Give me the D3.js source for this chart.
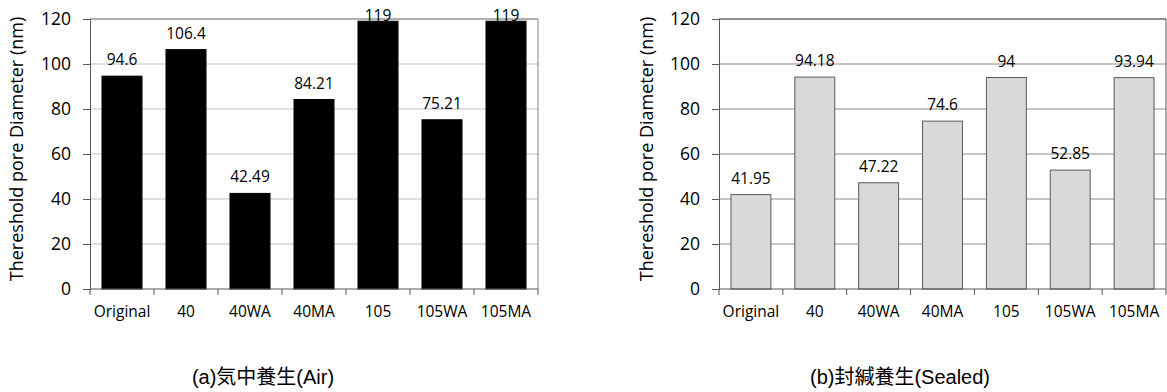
<!DOCTYPE html>
<html>
<head>
<meta charset="utf-8">
<script src="https://cdn.jsdelivr.net/npm/d3@7"></script>
<style>
  body { margin: 0; background: #fff; }
  svg text { font-family: "Open Sans", "Liberation Sans", sans-serif; fill: #000; }
</style>
</head>
<body>
<div id="chart"></div>
<script>
const categories = ["Original", "40", "40WA", "40MA", "105", "105WA", "105MA"];
const airValues = [94.6, 106.4, 42.49, 84.21, 119, 75.21, 119];
const airLabels = ["94.6", "106.4", "42.49", "84.21", "119", "75.21", "119"];
const sealedValues = [41.95, 94.18, 47.22, 74.6, 94, 52.85, 93.94];
const sealedLabels = ["41.95", "94.18", "47.22", "74.6", "94", "52.85", "93.94"];
const yTicks = [0, 20, 40, 60, 80, 100, 120];
const yTitle = "Thereshold pore Diameter (nm)";

const svg = d3.select("#chart")
  .append("svg")
  .attr("width", 1167)
  .attr("height", 392);

function drawPanel(opt) {
  const x = d3.scaleBand()
    .domain(categories)
    .range([opt.left, opt.right])
    .paddingInner(0.375)
    .paddingOuter(0.1875);

  const y = d3.scaleLinear()
    .domain([0, 120])
    .range([289, 19]);

  const g = svg.append("g");

  // gridlines
  g.selectAll(".grid")
    .data(yTicks.filter(t => t > 0))
    .enter()
    .append("line")
    .attr("x1", opt.left)
    .attr("x2", opt.right)
    .attr("y1", d => y(d))
    .attr("y2", d => y(d))
    .attr("stroke", opt.gridColor)
    .attr("stroke-width", 1);

  // plot border (top + right)
  g.append("path")
    .attr("d", `M${opt.left},${y(120)}H${opt.right}V${y(0)}`)
    .attr("fill", "none")
    .attr("stroke", opt.borderColor)
    .attr("stroke-width", 1);

  // bars
  g.selectAll(".bar")
    .data(opt.values)
    .enter()
    .append("rect")
    .attr("x", (d, i) => x(categories[i]))
    .attr("y", d => y(d))
    .attr("width", x.bandwidth())
    .attr("height", d => y(0) - y(d))
    .attr("fill", opt.fill)
    .attr("stroke", opt.stroke)
    .attr("stroke-width", 1);

  // value labels (kept inside the plot area, like the original)
  g.selectAll(".val")
    .data(opt.values)
    .enter()
    .append("text")
    .attr("x", (d, i) => x(categories[i]) + x.bandwidth() / 2)
    .attr("y", d => Math.max(y(d) - 11, y(120) + 1.5))
    .attr("text-anchor", "middle")
    .style("font-size", "15.5px")
    .text((d, i) => opt.labels[i]);

  // y axis
  const yAxis = g.append("g")
    .attr("transform", `translate(${opt.left},0)`)
    .call(d3.axisLeft(y).tickValues(yTicks).tickSize(7).tickPadding(12));
  yAxis.select(".domain").attr("stroke", "#595959");
  yAxis.selectAll(".tick line").attr("stroke", "#595959");
  yAxis.selectAll(".tick text")
    .style("font-size", "17.5px")
    .attr("font-family", null)
    .attr("fill", null);

  // x axis with ticks between categories
  const xAxis = g.append("g")
    .attr("transform", `translate(0,${y(0)})`);
  xAxis.append("line")
    .attr("x1", opt.left)
    .attr("x2", opt.right)
    .attr("stroke", "#595959");
  const bounds = d3.range(categories.length + 1).map(i => opt.left + i * (opt.right - opt.left) / categories.length);
  xAxis.selectAll(".xt")
    .data(bounds)
    .enter()
    .append("line")
    .attr("x1", d => d)
    .attr("x2", d => d)
    .attr("y1", 0)
    .attr("y2", 6)
    .attr("stroke", "#595959");
  xAxis.selectAll(".xl")
    .data(categories)
    .enter()
    .append("text")
    .attr("x", d => x(d) + x.bandwidth() / 2)
    .attr("y", 28)
    .attr("text-anchor", "middle")
    .style("font-size", "15.5px")
    .text(d => d);

  // y title
  g.append("text")
    .attr("transform", `translate(${opt.titleX},${149}) rotate(-90)`)
    .attr("text-anchor", "middle")
    .style("font-size", "18px")
    .text(yTitle);

  // caption
  g.append("text")
    .attr("x", opt.captionX)
    .attr("y", 384)
    .attr("text-anchor", "middle")
    .style("font-family", "'Liberation Sans', 'Noto Sans CJK JP', sans-serif")
    .style("font-size", "20px")
    .text(opt.caption);
}

drawPanel({
  left: 90, right: 538,
  values: airValues, labels: airLabels,
  fill: "#000000", stroke: "#000000",
  gridColor: "#bfbfbf", borderColor: "#808080",
  titleX: 23, captionX: 263,
  caption: "(a)気中養生(Air)"
});

drawPanel({
  left: 719, right: 1166,
  values: sealedValues, labels: sealedLabels,
  fill: "#d9d9d9", stroke: "#595959",
  gridColor: "#8c8c8c", borderColor: "#595959",
  titleX: 653, captionX: 900,
  caption: "(b)封緘養生(Sealed)"
});
</script>
</body>
</html>
